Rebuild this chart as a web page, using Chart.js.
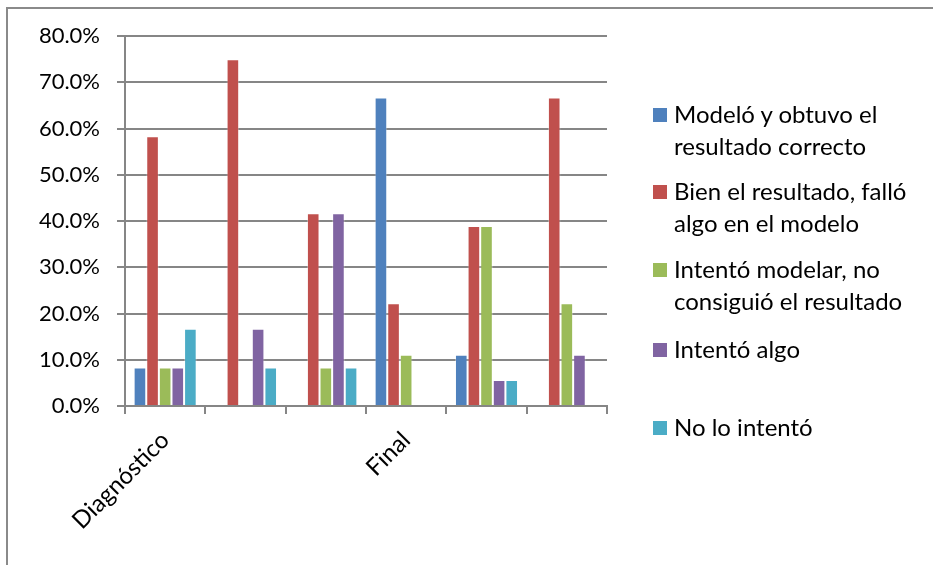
<!DOCTYPE html>
<html>
<head>
<meta charset="utf-8">
<script src="https://cdn.jsdelivr.net/npm/chart.js@4.4.1/dist/chart.umd.min.js"></script>
<style>
  html, body { margin: 0; padding: 0; background: #fff; }
  #wrap { position: relative; width: 933px; height: 565px; overflow: hidden; }
  #frame { position: absolute; left: 6px; top: 7px; width: 1000px; height: 1000px;
           border-top: 2px solid #8a8a8a; border-left: 2px solid #8a8a8a; }
  #chart { position: absolute; left: 0; top: 0; }
  #legend { position: absolute; left: 653px; top: 98px; font-family: Lato, sans-serif;
            font-size: 24px; color: #000; line-height: 32px; }
  .item { position: absolute; left: 0; white-space: nowrap; }
  .sw { position: absolute; left: 0; top: 10px; width: 14px; height: 14px; }
  .txt { position: absolute; left: 21px; top: 0; }
</style>
</head>
<body>
<div id="wrap">
  <div id="frame"></div>
  <canvas id="chart" width="933" height="565"></canvas>
  <div id="legend"></div>
</div>
<script>
// categories (only two carry a visible label)
const categories = ['Diagnóstico', '', '', 'Final', '', ''];

// series names (legend lines) and colours
const seriesNames = [
  ['Modeló y obtuvo el', 'resultado correcto'],
  ['Bien el resultado, falló', 'algo en el modelo'],
  ['Intentó modelar, no', 'consiguió el resultado'],
  ['Intentó algo'],
  ['No lo intentó']
];
const seriesColors = ['#4F81BD', '#C0504D', '#9BBB59', '#8064A2', '#4BACC6'];

// values in percent
const modeloCorrecto = [8.3, 0, 0, 66.7, 11.1, 0];
const bienFallo      = [58.3, 75.0, 41.7, 22.2, 38.9, 66.7];
const intentoModelar = [8.3, 0, 8.3, 11.1, 38.9, 22.2];
const intentoAlgo    = [8.3, 16.7, 41.7, 0, 5.6, 11.1];
const noIntento      = [16.7, 8.3, 8.3, 0, 5.6, 0];

const yTicks = [0, 10, 20, 30, 40, 50, 60, 70, 80];

const seriesValues = [modeloCorrecto, bienFallo, intentoModelar, intentoAlgo, noIntento];
const legendTops = [0, 77, 155, 235, 313];

// legend
const legendEl = document.getElementById('legend');
seriesNames.forEach((lines, i) => {
  const item = document.createElement('div');
  item.className = 'item';
  item.style.top = legendTops[i] + 'px';
  item.innerHTML = `<div class="sw" style="background:${seriesColors[i]}"></div>
    <div class="txt">${lines.join('<br>')}</div>`;
  legendEl.appendChild(item);
});

const gridColor = '#868686';

new Chart(document.getElementById('chart').getContext('2d'), {
  type: 'bar',
  data: {
    labels: categories,
    datasets: seriesValues.map((vals, i) => ({
      label: seriesNames[i].join(' '),
      data: vals,
      backgroundColor: seriesColors[i],
      borderColor: 'rgba(255,255,255,0.35)',
      borderWidth: 1,
      categoryPercentage: 0.785,
      barPercentage: 1
    }))
  },
  options: {
    responsive: false,
    animation: false,
    layout: { padding: { left: 0, top: 36, right: 326, bottom: 0 } },
    plugins: { legend: { display: false }, tooltip: { enabled: false } },
    scales: {
      x: {
        grid: { drawOnChartArea: false, color: gridColor, lineWidth: 2, tickLength: 8 },
        border: { color: gridColor, width: 2 },
        ticks: {
          color: '#000', font: { family: 'Lato', size: 24 }, minRotation: 45, maxRotation: 45,
          autoSkip: false, padding: 12
        },
        afterFit: (scale) => { scale.height = 159; }
      },
      y: {
        min: 0, max: 80,
        afterBuildTicks: (scale) => { scale.ticks = yTicks.map(v => ({ value: v })); },
        grid: { color: gridColor, lineWidth: 2, tickLength: 8 },
        border: { color: gridColor, width: 2 },
        ticks: {
          color: '#000', font: { family: 'Lato', size: 22 }, padding: 17,
          callback: (v) => v.toFixed(1) + '%'
        },
        afterFit: (scale) => { scale.width = 125; }
      }
    }
  }
});
</script>
</body>
</html>
